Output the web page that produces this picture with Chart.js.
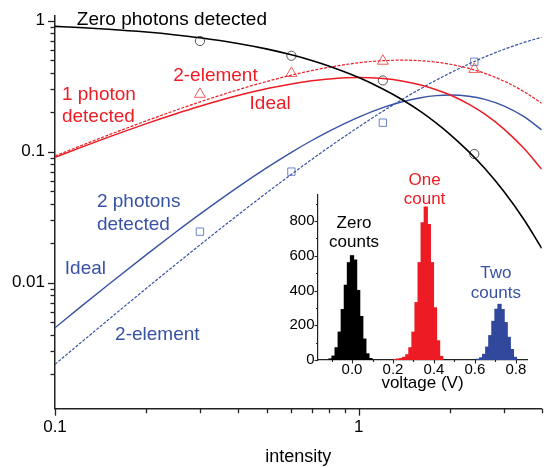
<!DOCTYPE html>
<html>
<head>
<meta charset="utf-8">
<script src="https://cdn.jsdelivr.net/npm/chart.js@4.4.0/dist/chart.umd.min.js"></script>
<style>
  html, body { margin: 0; padding: 0; background: #fff; }
  #wrap { position: relative; width: 549px; height: 468px; overflow: hidden; }
  #main { position: absolute; left: 0; top: 0; }
  #inset { position: absolute; left: 270px; top: 160px; }
</style>
</head>
<body>
<div id="wrap">
  <canvas id="main" width="549" height="468"></canvas>
  <canvas id="inset" width="270" height="240"></canvas>
</div>
<script>
// ---- detection probabilities vs. intensity ----
const intensity = [0.1, 0.12, 0.15, 0.2, 0.25, 0.3, 0.4, 0.5, 0.6, 0.7, 0.8, 1.0, 1.2, 1.4, 1.6, 1.8, 2.0, 2.3, 2.6, 3.0, 3.5, 4.0];
const zeroIdeal = [0.905, 0.887, 0.861, 0.819, 0.779, 0.741, 0.670, 0.607, 0.549, 0.497, 0.449, 0.368, 0.301, 0.247, 0.202, 0.165, 0.135, 0.100, 0.0743, 0.0498, 0.0302, 0.0183];
const oneIdeal = [0.0905, 0.1064, 0.1291, 0.1637, 0.1947, 0.2222, 0.2681, 0.3033, 0.3293, 0.3476, 0.3595, 0.3679, 0.3614, 0.3452, 0.3230, 0.2975, 0.2707, 0.2307, 0.1932, 0.1494, 0.1057, 0.0733];
const twoIdeal = [0.00452, 0.00639, 0.00968, 0.01637, 0.02434, 0.03334, 0.05362, 0.07582, 0.09878, 0.1217, 0.1438, 0.1839, 0.2169, 0.2417, 0.2584, 0.2678, 0.2707, 0.2653, 0.2511, 0.2240, 0.1850, 0.1465];
const oneTwoElement = [0.0928, 0.1097, 0.1341, 0.1722, 0.2074, 0.2398, 0.2968, 0.3445, 0.3840, 0.4162, 0.4420, 0.4773, 0.4952, 0.5000, 0.4949, 0.4825, 0.4651, 0.4328, 0.3965, 0.3467, 0.2872, 0.2340];
const twoTwoElement = [0.00238, 0.00339, 0.00522, 0.00906, 0.01381, 0.01940, 0.03286, 0.04893, 0.06717, 0.08721, 0.1087, 0.1548, 0.2036, 0.2534, 0.3032, 0.3522, 0.3996, 0.4670, 0.5292, 0.6035, 0.6827, 0.7476];

// measured points
const measIntensity = [0.3, 0.6, 1.2, 2.4];
const measZero = [0.70, 0.54, 0.35, 0.096];
const measOne = [0.275, 0.397, 0.492, 0.426];
const measTwo = [0.0245, 0.0704, 0.1665, 0.486];

// main axis ticks
const xTickValues = [0.1, 0.2, 0.3, 0.4, 0.5, 0.6, 0.7, 0.8, 0.9, 1, 2, 3, 4];
const xTickLabels = [0.1, 1];
const yTickValues = [0.002, 0.003, 0.004, 0.005, 0.006, 0.007, 0.008, 0.009,
                     0.01, 0.02, 0.03, 0.04, 0.05, 0.06, 0.07, 0.08, 0.09,
                     0.1, 0.2, 0.3, 0.4, 0.5, 0.6, 0.7, 0.8, 0.9, 1];
const yTickLabels = [0.01, 0.1, 1];

// ---- pulse-height histograms (inset), 0.015 V bins ----
const zeroBins = [-0.105, -0.09, -0.075, -0.06, -0.045, -0.03, -0.015, 0, 0.015, 0.03, 0.045, 0.06, 0.075, 0.09];
const zeroCounts = [6, 22, 70, 160, 290, 430, 560, 600, 575, 400, 250, 120, 35, 8];
const oneBins = [0.21, 0.225, 0.24, 0.255, 0.27, 0.285, 0.30, 0.315, 0.33, 0.345, 0.36, 0.375, 0.39, 0.405, 0.42, 0.435];
const oneCounts = [3, 5, 8, 15, 30, 70, 160, 330, 560, 790, 880, 780, 560, 300, 110, 20];
const twoBins = [0.615, 0.63, 0.645, 0.66, 0.675, 0.69, 0.705, 0.72, 0.735, 0.75, 0.765, 0.78, 0.795];
const twoCounts = [4, 12, 32, 74, 140, 222, 292, 320, 290, 215, 130, 60, 15];

const insetXTicks = [-0.1, 0, 0.1, 0.2, 0.3, 0.4, 0.5, 0.6, 0.7, 0.8];
const insetXLabels = [0, 0.2, 0.4, 0.6, 0.8];
const insetYTicks = [0, 100, 200, 300, 400, 500, 600, 700, 800, 900];
const insetYLabels = [0, 200, 400, 600, 800];

const FONT = "'Liberation Sans', Arial, Helvetica, sans-serif";
const BLACK = '#000000';
const RED = '#ed1c24';
const BLUE = '#3852a4';
const AXIS = '#222222';

const pts = (xs, ys) => xs.map((x, i) => ({x, y: ys[i]}));
const isIn = (list, v) => list.some(u => Math.abs(u - v) < 1e-9);

// Outward tick marks: long ones at labelled values, short ones elsewhere.
function tickMarkPlugin(spec) {
  return {
    id: 'tickMarks',
    afterDraw(chart) {
      const ctx = chart.ctx;
      ctx.save();
      ctx.strokeStyle = AXIS;
      ctx.lineWidth = spec.width;
      for (const id of ['x', 'y']) {
        const s = chart.scales[id];
        const labelled = id === 'x' ? spec.xMajor : spec.yMajor;
        s.ticks.forEach(t => {
          const len = isIn(labelled, t.value) ? spec.majorLen : spec.minorLen;
          const p = Math.round(s.getPixelForValue(t.value)) + 0.5;
          ctx.beginPath();
          if (id === 'x') { ctx.moveTo(p, s.top); ctx.lineTo(p, s.top + len); }
          else { ctx.moveTo(s.right, p); ctx.lineTo(s.right - len, p); }
          ctx.stroke();
        });
      }
      ctx.restore();
    }
  };
}

// Text notes anchored in data coordinates.
function notesPlugin(notes, size) {
  return {
    id: 'notes',
    afterDraw(chart) {
      const ctx = chart.ctx;
      ctx.save();
      ctx.font = size + 'px ' + FONT;
      ctx.textBaseline = 'alphabetic';
      notes.forEach(n => {
        const x = chart.scales.x.getPixelForValue(n.x);
        const y = chart.scales.y.getPixelForValue(n.y);
        ctx.fillStyle = n.color;
        ctx.textAlign = n.align;
        n.lines.forEach((line, i) => ctx.fillText(line, x, y + i * n.lh));
      });
      ctx.restore();
    }
  };
}

function fixedTicks(values) {
  return scale => { scale.ticks = values.map(v => ({value: v})); };
}
function fixedSize(prop, size) {
  return scale => {
    scale[prop] = size;
    scale.paddingTop = 0; scale.paddingBottom = 0;
    scale.paddingLeft = 0; scale.paddingRight = 0;
  };
}

// ---------------- main chart ----------------
const mainNotes = [
  {lines: ['Zero photons detected'], x: 0.118, y: 0.927, color: BLACK, align: 'left', lh: 0},
  {lines: ['1 photon', 'detected'], x: 0.1054, y: 0.248, color: RED, align: 'left', lh: 21.7},
  {lines: ['2-element'], x: 0.245, y: 0.348, color: RED, align: 'left', lh: 0},
  {lines: ['Ideal'], x: 0.437, y: 0.212, color: RED, align: 'left', lh: 0},
  {lines: ['2 photons', 'detected'], x: 0.1374, y: 0.038, color: BLUE, align: 'left', lh: 23.3},
  {lines: ['Ideal'], x: 0.1077, y: 0.0116, color: BLUE, align: 'left', lh: 0},
  {lines: ['2-element'], x: 0.1577, y: 0.00365, color: BLUE, align: 'left', lh: 0}
];

const curve = (data, color, dashed, width) => ({
  data: pts(intensity, data),
  borderColor: color,
  borderWidth: width,
  borderDash: dashed ? [3, 1.5] : [],
  pointRadius: 0,
  fill: false,
  cubicInterpolationMode: 'monotone'
});
const markers = (data, style, color, radius) => ({
  data: pts(measIntensity, data),
  showLine: false,
  pointStyle: style,
  pointRadius: radius,
  pointBorderColor: color,
  pointBackgroundColor: 'rgba(0,0,0,0)',
  pointBorderWidth: 1
});

new Chart(document.getElementById('main'), {
  type: 'line',
  data: {
    datasets: [
      curve(zeroIdeal, BLACK, false, 1.6),
      curve(oneIdeal, RED, false, 1.5),
      curve(oneTwoElement, RED, true, 1.2),
      curve(twoIdeal, BLUE, false, 1.4),
      curve(twoTwoElement, BLUE, true, 1.2),
      markers(measZero, 'circle', '#555555', 4.6),
      markers(measOne, 'triangle', '#f25a5a', 6.3),
      markers(measTwo, 'rect', '#6f84c6', 5.2)
    ]
  },
  options: {
    responsive: false,
    animation: false,
    devicePixelRatio: 1,
    layout: {padding: {left: 0, right: 0, top: 15.3, bottom: 0}},
    plugins: {legend: {display: false}, tooltip: {enabled: false}},
    scales: {
      x: {
        type: 'logarithmic',
        min: 0.1, max: 4,
        afterBuildTicks: fixedTicks(xTickValues),
        afterFit: fixedSize('height', 59.3),
        grid: {display: true, drawOnChartArea: false, drawTicks: false},
        border: {display: true, color: AXIS, width: 1.5},
        ticks: {
          autoSkip: false, maxRotation: 0, padding: 8.5,
          color: BLACK, font: {family: FONT, size: 17},
          callback: v => isIn(xTickLabels, v) ? String(v) : ''
        },
        title: {display: true, text: 'intensity', color: BLACK,
                font: {family: FONT, size: 18}, padding: {top: 0, bottom: 0.6}}
      },
      y: {
        type: 'logarithmic',
        min: 0.00109, max: 1.1,
        afterBuildTicks: fixedTicks(yTickValues),
        afterFit: fixedSize('width', 55),
        grid: {display: true, drawOnChartArea: false, drawTicks: false},
        border: {display: true, color: AXIS, width: 1.5},
        ticks: {
          autoSkip: false, padding: 10,
          color: BLACK, font: {family: FONT, size: 17},
          callback: v => isIn(yTickLabels, v) ? String(v) : ''
        }
      }
    }
  },
  plugins: [
    tickMarkPlugin({xMajor: xTickLabels, yMajor: yTickLabels, majorLen: 7, minorLen: 4.5, width: 1.3}),
    notesPlugin(mainNotes, 19)
  ]
});

// ---------------- inset histogram ----------------
const insetNotes = [
  {lines: ['Zero', 'counts'], x: 0.01, y: 760, color: BLACK, align: 'center', lh: 19},
  {lines: ['One', 'count'], x: 0.354, y: 1006, color: RED, align: 'center', lh: 18.5},
  {lines: ['Two', 'counts'], x: 0.702, y: 473, color: BLUE, align: 'center', lh: 20.5}
];

// adjacent bins touch; a small inflation hides anti-aliasing seams between them
const hist = (bins, counts, color) => ({
  data: pts(bins, counts),
  backgroundColor: color,
  borderWidth: 0,
  inflateAmount: 0.6,
  grouped: false,
  barPercentage: 1,
  categoryPercentage: 1
});

new Chart(document.getElementById('inset'), {
  type: 'bar',
  data: {
    datasets: [
      hist(zeroBins, zeroCounts, '#000000'),
      hist(oneBins, oneCounts, RED),
      hist(twoBins, twoCounts, '#31489c')
    ]
  },
  options: {
    responsive: false,
    animation: false,
    devicePixelRatio: 1,
    layout: {padding: {left: 0, right: 13, top: 35, bottom: 0}},
    plugins: {legend: {display: false}, tooltip: {enabled: false}},
    scales: {
      x: {
        type: 'linear',
        offset: false,
        min: -0.166, max: 0.854,
        afterBuildTicks: fixedTicks(insetXTicks),
        afterFit: fixedSize('height', 40),
        grid: {display: true, drawOnChartArea: false, drawTicks: false, offset: false},
        border: {display: true, color: AXIS, width: 1.2},
        ticks: {
          autoSkip: false, maxRotation: 0, padding: 1,
          color: BLACK, font: {family: FONT, size: 15},
          callback: v => isIn(insetXLabels, v) ? v.toFixed(1) : ''
        },
        title: {display: true, text: 'voltage (V)', color: BLACK,
                font: {family: FONT, size: 17}, padding: {top: 0, bottom: 6.7}}
      },
      y: {
        type: 'linear',
        min: 0, max: 950,
        afterBuildTicks: fixedTicks(insetYTicks),
        afterFit: fixedSize('width', 48),
        grid: {display: true, drawOnChartArea: false, drawTicks: false},
        border: {display: true, color: AXIS, width: 1.2},
        ticks: {
          autoSkip: false, padding: 3.5,
          color: BLACK, font: {family: FONT, size: 15},
          callback: v => isIn(insetYLabels, v) ? String(v) : ''
        }
      }
    }
  },
  plugins: [
    tickMarkPlugin({xMajor: insetXLabels, yMajor: insetYLabels, majorLen: 3.5, minorLen: 2, width: 1.1}),
    notesPlugin(insetNotes, 17)
  ]
});
</script>
</body>
</html>
